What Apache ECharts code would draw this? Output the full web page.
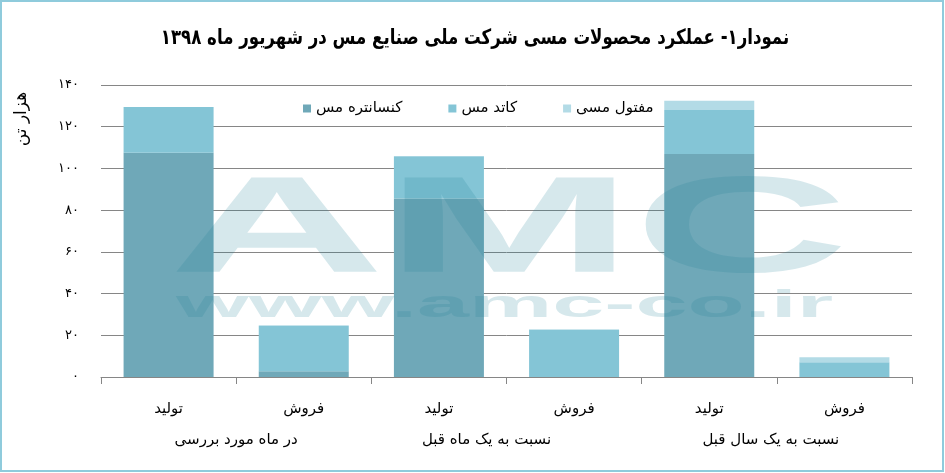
<!DOCTYPE html>
<html>
<head>
<meta charset="utf-8">
<script src="https://cdn.jsdelivr.net/npm/echarts@6/dist/echarts.min.js"></script>
<style>html,body{margin:0;padding:0;background:#fff}#c{width:945px;height:473px}</style>
</head>
<body>
<div id="c"></div>
<script>
// ---- data ----
var categories = ['تولید', 'فروش', 'تولید', 'فروش', 'تولید', 'فروش'];
var groups = ['در ماه مورد بررسی', 'نسبت به یک ماه قبل', 'نسبت به یک سال قبل'];
var concentrate = [107.5, 2.7, 85.6, 0, 106.9, 0];   // کنسانتره مس
var cathode     = [22.0, 21.8, 20.2, 22.6, 21.1, 7.1]; // کاتد مس
var wire        = [0, 0.3, 0.2, 0.3, 4.4, 2.4];        // مفتول مسی
var seriesNames = ['کنسانتره مس', 'کاتد مس', 'مفتول مسی'];
var yTickLabels = ['۰', '۲۰', '۴۰', '۶۰', '۸۰', '۱۰۰', '۱۲۰', '۱۴۰'];
var titleText = 'نمودار۱- عملکرد محصولات مسی شرکت ملی صنایع مس در شهریور ماه ۱۳۹۸';
var yName = 'هزار تن';

var FONT = '"DejaVu Sans", sans-serif';
var colors = ['#6fa8b8', '#84c5d6', '#b3dbe6'];
var groupShift = [0, 40, 12]; // right padding to nudge group labels left, as in the original
var chart = echarts.init(document.getElementById('c'), null, {renderer: 'canvas'});

function mk(name, data, color) {
  return {
    name: name, type: 'bar', stack: 'total', data: data, barWidth: 90,
    itemStyle: {color: color}, emphasis: {disabled: true}, z: 2
  };
}

var option = {
  animation: false,
  backgroundColor: '#fff',
  color: colors,
  textStyle: {fontFamily: FONT},
  legend: {
    data: seriesNames, left: 298, top: 96, icon: 'rect',
    itemWidth: 8, itemHeight: 8, itemGap: 46,
    textStyle: {fontFamily: FONT, fontSize: 15, color: '#000'}
  },
  grid: {left: 101, right: 33, top: 85, bottom: 96, containLabel: false},
  xAxis: [{
    type: 'category', data: categories,
    axisLine: {show: true, lineStyle: {color: '#868686', width: 1}},
    axisTick: {show: true, interval: 0, length: 7, lineStyle: {color: '#868686'}},
    axisLabel: {interval: 0, margin: 25, fontSize: 15, color: '#000', fontFamily: FONT}
  }, {
    type: 'category',
    data: groups.map(function (g, i) {
      return {value: g, textStyle: {padding: [0, groupShift[i], 0, 0]}};
    }),
    position: 'bottom', offset: 31,
    axisLine: {show: false}, axisTick: {show: false},
    axisLabel: {interval: 0, margin: 25, fontSize: 15, color: '#000', fontFamily: FONT}
  }],
  yAxis: {
    type: 'value', min: 0, max: 140, interval: 20,
    axisLine: {show: false}, axisTick: {show: false},
    splitLine: {lineStyle: {color: '#868686', width: 1}},
    axisLabel: {
      margin: 22, fontSize: 13, color: '#000', fontFamily: FONT,
      formatter: function (v) { return yTickLabels[Math.round(v / 20)]; }
    }
  },
  series: [
    mk(seriesNames[0], concentrate, colors[0]),
    mk(seriesNames[1], cathode, colors[1]),
    mk(seriesNames[2], wire, colors[2])
  ],
  graphic: [
    {type: 'rect', shape: {x: 1, y: 1, width: 942, height: 470},
     style: {fill: 'none', stroke: '#8fcbdc', lineWidth: 2}, z: 100, silent: true},
    {type: 'text', x: 475, y: 39, scaleX: 0.79,
     style: {text: titleText, font: 'bold 21px ' + FONT, fill: '#000', textAlign: 'center', textVerticalAlign: 'middle'}, z: 100},
    {type: 'text', x: 22, y: 119, rotation: Math.PI / 2,
     style: {text: yName, font: '17px ' + FONT, fill: '#000', textAlign: 'center', textVerticalAlign: 'middle'}, z: 100},
    {type: 'text', x: 169, y: 234, scaleX: 2.18,
     style: {text: 'AMC', font: 'bold 137px "Liberation Sans"', fill: 'rgba(25,125,150,0.18)', textAlign: 'left', textVerticalAlign: 'middle'},
     z: 50, silent: true},
    {type: 'text', x: 176, y: 306, scaleX: 2.4,
     style: {text: 'www.amc-co.ir', font: 'bold 39px "Liberation Sans"', fill: 'rgba(25,125,150,0.18)', textAlign: 'left', textVerticalAlign: 'middle'},
     z: 50, silent: true}
  ]
};
chart.setOption(option);
</script>
</body>
</html>
